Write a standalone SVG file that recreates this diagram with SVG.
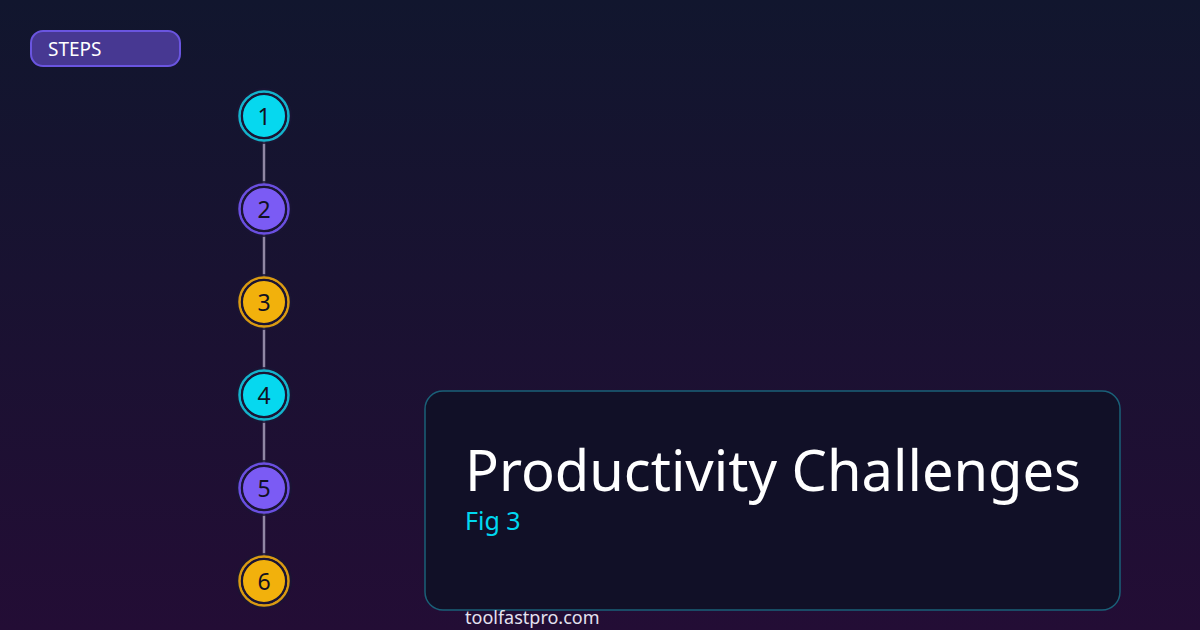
<svg xmlns="http://www.w3.org/2000/svg" width="1200" height="630" viewBox="0 0 1200 630">
<defs>
<linearGradient id="bg" x1="0" y1="0" x2="0" y2="1">
<stop offset="0" stop-color="#11162e"/>
<stop offset="1" stop-color="#230d35"/>
</linearGradient>
<style>
.t{font-family:"Noto Sans","Open Sans","Liberation Sans",sans-serif}
.halo{fill:#1a1535;opacity:0.8}
.ring{fill:none;stroke-width:2.5}
.gap{fill:none;stroke:#1b1534;stroke-width:2}
.num{font-family:"Noto Sans","Open Sans","Liberation Sans",sans-serif;font-size:23px;fill:#111122;text-anchor:middle}
.cyan .ring{stroke:#14b3cc}.cyan .core{fill:#06d8ef}
.purple .ring{stroke:#6a4fe0}.purple .core{fill:#7b5bf4}
.amber .ring{stroke:#d99a12}.amber .core{fill:#f2b10c}
.conn{stroke:#a59cb8;stroke-width:2.5;opacity:0.85}
</style>
</defs>
<rect width="1200" height="630" fill="url(#bg)"/>
<g id="badge">
<rect x="31" y="31" width="149" height="35" rx="12" fill="#473892" stroke="#6a55e0" stroke-width="2"/>
<text class="t" x="48" y="56" font-size="19" fill="#ffffff">STEPS</text>
</g>
<g id="connectors">
<line class="conn" x1="264" y1="141" x2="264" y2="184"/>
<line class="conn" x1="264" y1="234" x2="264" y2="277"/>
<line class="conn" x1="264" y1="327" x2="264" y2="370"/>
<line class="conn" x1="264" y1="420" x2="264" y2="463"/>
<line class="conn" x1="264" y1="513" x2="264" y2="556"/>
</g>
<g id="step1" class="cyan">
<circle class="halo" cx="264" cy="116" r="28"/>
<circle class="ring" cx="264" cy="116" r="24.5"/>
<circle class="core" cx="264" cy="116" r="21.5"/>
<circle class="gap" cx="264" cy="116" r="22"/>
<text class="num" x="264" y="124.5">1</text>
</g>
<g id="step2" class="purple">
<circle class="halo" cx="264" cy="209" r="28"/>
<circle class="ring" cx="264" cy="209" r="24.5"/>
<circle class="core" cx="264" cy="209" r="21.5"/>
<circle class="gap" cx="264" cy="209" r="22"/>
<text class="num" x="264" y="217.5">2</text>
</g>
<g id="step3" class="amber">
<circle class="halo" cx="264" cy="302" r="28"/>
<circle class="ring" cx="264" cy="302" r="24.5"/>
<circle class="core" cx="264" cy="302" r="21.5"/>
<circle class="gap" cx="264" cy="302" r="22"/>
<text class="num" x="264" y="310.5">3</text>
</g>
<g id="step4" class="cyan">
<circle class="halo" cx="264" cy="395" r="28"/>
<circle class="ring" cx="264" cy="395" r="24.5"/>
<circle class="core" cx="264" cy="395" r="21.5"/>
<circle class="gap" cx="264" cy="395" r="22"/>
<text class="num" x="264" y="403.5">4</text>
</g>
<g id="step5" class="purple">
<circle class="halo" cx="264" cy="488" r="28"/>
<circle class="ring" cx="264" cy="488" r="24.5"/>
<circle class="core" cx="264" cy="488" r="21.5"/>
<circle class="gap" cx="264" cy="488" r="22"/>
<text class="num" x="264" y="496.5">5</text>
</g>
<g id="step6" class="amber">
<circle class="halo" cx="264" cy="581" r="28"/>
<circle class="ring" cx="264" cy="581" r="24.5"/>
<circle class="core" cx="264" cy="581" r="21.5"/>
<circle class="gap" cx="264" cy="581" r="22"/>
<text class="num" x="264" y="589.5">6</text>
</g>
<g id="card">
<rect x="425" y="391" width="695" height="219" rx="18" fill="#111027" stroke="#1a6078" stroke-width="1.5"/>
<text class="t" x="465" y="491" font-size="56" fill="#ffffff">Productivity Challenges</text>
<text class="t" x="465" y="530" font-size="25" fill="#00d8f0">Fig 3</text>
</g>
<text id="footer" class="t" x="465" y="624" font-size="18" fill="#e4e2f0">toolfastpro.com</text>
</svg>
